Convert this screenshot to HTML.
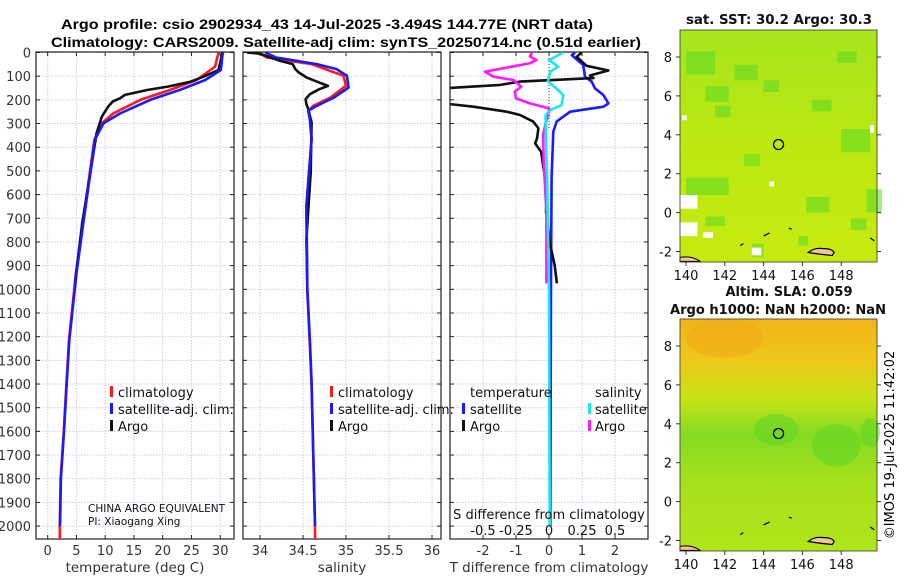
<!DOCTYPE html>
<html><head><meta charset="utf-8"><style>
html,body{margin:0;padding:0;background:#fff;width:900px;height:580px;overflow:hidden}
svg{display:block;font-family:"DejaVu Sans","Liberation Sans",sans-serif}
</style></head><body>
<svg id="fig" width="900" height="580" viewBox="0 0 900 580" xmlns="http://www.w3.org/2000/svg">
<defs>
<clipPath id="c1"><rect x="36" y="52" width="198" height="487"/></clipPath>
<clipPath id="c2"><rect x="243" y="52" width="198" height="487"/></clipPath>
<clipPath id="c3"><rect x="450" y="52" width="198" height="487"/></clipPath>
<linearGradient id="g1" x1="0" y1="0" x2="0" y2="1"><stop offset="0" stop-color="#a6e41c"/><stop offset="0.5" stop-color="#bce812"/><stop offset="1" stop-color="#c6ea10"/></linearGradient>
<linearGradient id="g2" x1="0" y1="0" x2="0" y2="1"><stop offset="0" stop-color="#f2b41a"/><stop offset="0.18" stop-color="#eec81a"/><stop offset="0.35" stop-color="#c4e416"/><stop offset="0.5" stop-color="#84da22"/><stop offset="0.7" stop-color="#a6e01c"/><stop offset="1" stop-color="#b0e41a"/></linearGradient>
</defs>
<g id="titles">
<text x="327" y="29" text-anchor="middle" font-family="Liberation Sans,sans-serif" font-weight="bold" font-size="13.5" textLength="532" lengthAdjust="spacingAndGlyphs">Argo profile: csio 2902934_43 14-Jul-2025 -3.494S 144.77E (NRT data)</text>
<text x="346" y="47" text-anchor="middle" font-family="Liberation Sans,sans-serif" font-weight="bold" font-size="13.5" textLength="590" lengthAdjust="spacingAndGlyphs">Climatology: CARS2009. Satellite-adj clim: synTS_20250714.nc (0.51d earlier)</text>
</g>
<g id="panels"></g>
<g id="maps"></g>
<text transform="translate(894,445) rotate(-90)" text-anchor="middle" font-size="13">©IMOS 19-Jul-2025 11:42:02</text>
</svg>
<script>
// ---------- data ----------
const depthTicks = [0,100,200,300,400,500,600,700,800,900,1000,1100,1200,1300,1400,1500,1600,1700,1800,1900,2000];
const tempTicks = [0,5,10,15,20,25,30];
const salTicks = [34,34.5,35,35.5,36];
const salTickLabels = ["34","34.5","35","35.5","36"];
const dTTicks = [-2,-1,0,1,2];
const dSTicks = [-0.5,-0.25,0,0.25,0.5];
const dSTickLabels = ["-0.5","-0.25","0","0.25","0.5"];

const tClimDepth = [0,60,116,158,200,257,299,369,510,721,932,1214,1400,1600,1800,2000,2055];
const tClim = [29.7,29.1,25.9,21.3,16.1,11.4,9.4,8.1,7.3,6.1,4.9,3.7,3.25,2.8,2.25,2.1,2.1];
const tSatDepth = [0,11,53,74,116,158,200,257,299,369,510,721,932,1214,1400,1600,1800,2000];
const tSat = [30.5,30.4,30.2,30.1,27.4,23.0,17.8,12.6,9.7,8.2,7.4,6.2,5.0,3.76,3.3,2.84,2.3,2.14];
const tArgoDepth = [0,74,102,123,144,158,179,193,207,229,271,341,510,721,975];
const tArgo = [30.4,29.7,27.1,24.9,20.9,17.4,13.4,12.6,11.3,10.5,9.4,8.5,7.4,6.0,4.75];

const sClimDepth = [0,21,49,98,140,190,225,246,282,366,648,1000,1400,2000,2055];
const sClim = [33.98,34.08,34.6,34.97,35.0,34.82,34.62,34.56,34.58,34.6,34.54,34.55,34.6,34.64,34.64];
const sSatDepth = [0,21,49,70,98,148,190,225,246,282,366,648,1000,1214,1400,2000];
const sSat = [34.06,34.19,34.66,34.89,35.01,35.03,34.86,34.66,34.56,34.58,34.60,34.54,34.55,34.58,34.60,34.64];
const sArgoDepth = [0,5,35,49,70,84,105,127,141,155,176,197,218,239,296,507,789,972];
const sArgo = [33.85,34.0,34.23,34.38,34.41,34.45,34.54,34.69,34.79,34.69,34.58,34.53,34.54,34.56,34.60,34.59,34.54,34.55];

const dTSatDepth = [0,11,53,102,123,151,180,215,229,250,292,334,531,954,2000];
const dTSat = [0.79,0.69,1.04,1.09,1.29,1.39,1.65,1.8,1.65,0.64,0.23,0.13,0.08,0.06,0.04];
const dTArgoDepth = [0,18,56,76,97,108,123,137,151,180,215,229,250,264,292,320,362,384,419,531,602,672,813,897,975];
const dTArgo = [0.99,0.84,1.14,1.8,1.24,1.35,-0.88,-1.48,-3.2,-5,-3.2,-2.29,-1.28,-0.88,-0.48,-0.32,-0.36,-0.42,-0.24,-0.12,-0.07,-0.09,0.04,0.17,0.24];
const dSArgoDepth = [0,17,32,46,81,102,116,144,165,194,215,236,250,292,348,461,672,975];
const dSArgo = [-0.13,-0.144,-0.095,-0.15,-0.485,-0.42,-0.27,-0.21,-0.26,-0.25,-0.145,0.0,0.0,-0.023,-0.045,-0.04,-0.02,-0.02];
const dSSatDepth = [0,32,60,81,123,151,180,222,243,264,320,531,1000,2000];
const dSSat = [0.108,0.0,0.07,0.01,-0.008,0.055,0.108,0.095,0.013,-0.025,-0.025,-0.015,0.0,0.005];

const lonTicks = [140,142,144,146,148];
const latTicks = [-2,0,2,4,6,8];
const floatLon = 144.77, floatLat = 3.5;

// ---------- scales ----------
const yD = d => 52.5 + d*0.2368;
const xT = t => 47.7 + t*5.75;
const xS = s => 260 + (s-34)*86;
const xDT = v => 549 + v*33;
const xDS = v => 549 + v*132;
const NS = "http://www.w3.org/2000/svg";
function mk(tag, attrs, parent){const e=document.createElementNS(NS,tag);for(const k in attrs)e.setAttribute(k,attrs[k]);parent.appendChild(e);return e;}
const panels = document.getElementById('panels');
const maps = document.getElementById('maps');

function panel(x0, name, xticks, xfn, labels, title){
  const g = mk('g',{},panels);
  
  
  const W=198, top=52, bot=539;
  xticks.forEach(t=>{ const x=xfn(t);
    mk('line',{x1:x,x2:x,y1:top,y2:bot,stroke:'#c9cbe6','stroke-width':1,'stroke-dasharray':'1.5,1.5'},g);
    mk('line',{x1:x,x2:x,y1:bot,y2:bot-4,stroke:'#222'},g);
    mk('line',{x1:x,x2:x,y1:top,y2:top+4,stroke:'#222'},g);
  });
  depthTicks.forEach(d=>{ const y=yD(d);
    mk('line',{x1:x0,x2:x0+W,y1:y,y2:y,stroke:'#c9cbe6','stroke-width':1,'stroke-dasharray':'1.5,1.5'},g);
    mk('line',{x1:x0,x2:x0+4,y1:y,y2:y,stroke:'#222'},g);
    mk('line',{x1:x0+W-4,x2:x0+W,y1:y,y2:y,stroke:'#222'},g);
  });
  mk('rect',{x:x0,y:top,width:W,height:bot-top,fill:'none',stroke:'#222','stroke-width':1.2},g);
  if(labels){ xticks.forEach((t,i)=>{ const tx=mk('text',{x:xfn(t),y:555,'text-anchor':'middle','font-size':13,fill:'#333'},g); tx.textContent=labels[i]; }); }
  if(title){ const tt=mk('text',{x:x0+W/2,y:572,'text-anchor':'middle','font-size':13.5,fill:'#333'},g); tt.textContent=title;   }
  return g;
}
function line(g, clip, depths, vals, xfn, color, name, w){
  const pts = depths.map((d,i)=>xfn(vals[i]).toFixed(1)+','+yD(d).toFixed(1)).join(' ');
  const p = mk('polyline',{points:pts,fill:'none',stroke:color,'stroke-width':w||2.6,'stroke-linejoin':'round','clip-path':'url(#'+clip+')'},g);
  
  
}
function txt(g,x,y,s,size,anchor,name){ const t=mk('text',{x:x,y:y,'font-size':size||13,'text-anchor':anchor||'start',fill:'#111'},g); t.textContent=s;
  
   return t;}
function mark(g,x,y,color){ mk('rect',{x:x,y:y-10,width:3,height:11,fill:color},g); }

// Panel 1 temperature
const p1 = panel(36,'temperature-panel',tempTicks,xT,tempTicks.map(String),'temperature (deg C)');
depthTicks.forEach(d=>{ const t=mk('text',{x:31,y:yD(d)+5,'text-anchor':'end','font-size':13,fill:'#333'},p1); t.textContent=String(d);
  
   });
line(p1,'c1',tClimDepth,tClim,xT,'#ff1a1a','temp-climatology-line');
line(p1,'c1',tArgoDepth,tArgo,xT,'#111','temp-argo-line');
line(p1,'c1',tSatDepth,tSat,xT,'#1a1aff','temp-satellite-line');
mark(p1,110,396,'#ff1a1a'); txt(p1,118,397,'climatology',13,'start','legend-climatology');
mark(p1,110,413,'#1a1aff'); txt(p1,118,414,'satellite-adj. clim.',13,'start','legend-satellite');
mark(p1,110,430,'#111'); txt(p1,118,431,'Argo',13,'start','legend-argo');
txt(p1,88,512,'CHINA ARGO EQUIVALENT',10.5,'start','institution-label');
txt(p1,88,525,'PI: Xiaogang Xing',10.5,'start','pi-label');

// Panel 2 salinity
const p2 = panel(243,'salinity-panel',salTicks,xS,salTickLabels,'salinity');
line(p2,'c2',sClimDepth,sClim,xS,'#ff1a1a','sal-climatology-line');
line(p2,'c2',sArgoDepth,sArgo,xS,'#111','sal-argo-line');
line(p2,'c2',sSatDepth,sSat,xS,'#1a1aff','sal-satellite-line');
mark(p2,330,396,'#ff1a1a'); txt(p2,338,397,'climatology',13,'start','legend-climatology');
mark(p2,330,413,'#1a1aff'); txt(p2,338,414,'satellite-adj. clim.',13,'start','legend-satellite');
mark(p2,330,430,'#111'); txt(p2,338,431,'Argo',13,'start','legend-argo');

// Panel 3 differences
const p3 = panel(450,'difference-panel',dTTicks,xDT,dTTicks.map(String),'T difference from climatology');
mk('line',{x1:549,x2:549,y1:52,y2:130,stroke:'#333','stroke-width':1,'stroke-dasharray':'1,2'},p3);
line(p3,'c3',dTSatDepth,dTSat,xDT,'#1a1aff','dT-satellite-line');
line(p3,'c3',dTArgoDepth,dTArgo,xDT,'#111','dT-argo-line');
line(p3,'c3',dSArgoDepth,dSArgo,xDS,'#ff1aff','dS-argo-line');
line(p3,'c3',dSSatDepth,dSSat,xDS,'#1ae6f0','dS-satellite-line');
txt(p3,470,397,'temperature',13,'start','legend-temperature-heading');
txt(p3,595,397,'salinity',13,'start','legend-salinity-heading');
mark(p3,462,413,'#1a1aff'); txt(p3,470,414,'satellite',13,'start','legend-t-satellite');
mark(p3,462,430,'#111'); txt(p3,470,431,'Argo',13,'start','legend-t-argo');
mark(p3,588,413,'#1ae6f0'); txt(p3,595,414,'satellite',13,'start','legend-s-satellite');
mark(p3,588,430,'#ff1aff'); txt(p3,595,431,'Argo',13,'start','legend-s-argo');
txt(p3,549,519,'S difference from climatology',13,'middle','s-diff-axis-title');
dSTicks.forEach((v,i)=>{ txt(p3,xDS(v),535,dSTickLabels[i],13,'middle','s-diff-tick-label'); });

// ---------- maps ----------
function map(top, bg, name){
  const g = mk('g',{},maps);
  
  
  const L=680, W=197, H=232;
  const xL = lon => 686 + (lon-140)*19.4;
  const yL = lat => top + 27 + (8-lat)*19.45;
  mk('rect',{x:L,y:top,width:W,height:H,fill:bg},g);
  return {g,xL,yL,L,W,H};
}
// Map 1 SST
const m1 = map(30,'url(#g1)','sst-map');
const patches1 = [[140,1.8,2.2,0.9],[142.5,7.6,1.2,0.8],[148,4.3,1.5,1.2],[143.4,-1.6,0.6,0.7],[146.2,0.8,1.2,0.8],[149.3,1.2,0.8,1.2],[141.5,5.5,0.8,0.6],[145.8,-1.2,0.5,0.5],[147.8,8.3,1,0.6],[140,8.3,1.5,1.2],[141,6.5,1.2,0.8],[144,6.8,0.8,0.6],[146.5,5.8,1,0.6],[143,3,0.8,0.6],[141,-0.2,1,0.5],[148.5,-0.3,0.8,0.6]];
patches1.forEach(p=>{ const r=mk('rect',{x:m1.xL(p[0]),y:m1.yL(p[1]),width:p[2]*19.4,height:p[3]*19.4,fill:'#5ad826',opacity:0.55},m1.g);
  
   });
[[140,0.9,0.9,0.7],[140,-0.5,0.9,0.7],[143.7,-1.8,0.5,0.4],[141.2,-1,0.5,0.3],[140.1,5,0.25,0.25],[144.6,1.6,0.25,0.25],[149.8,4.5,0.2,0.4]].forEach(p=>{ const r=mk('rect',{x:m1.xL(p[0])-6,y:m1.yL(p[1]),width:p[2]*19.4,height:p[3]*19.4,fill:'#fff'},m1.g);
  
   });
// Map 2 SLA
const m2 = map(319,'url(#g2)','sla-map');
[[143.5,4.5,2.3,1.6],[146.5,4.0,2.5,2.2],[149,4.3,1,1.5],[140,9.4,4,2]].forEach((p,i)=>{ const e=mk('ellipse',{cx:m2.xL(p[0]+p[2]/2),cy:m2.yL(p[1]-p[3]/2),rx:p[2]*9.7,ry:p[3]*9.7,fill:i==3?'#f0a818':'#5ed626',opacity:0.55},m2.g);
  
   });
[m1,m2].forEach((m,i)=>{
  const g=m.g;
  mk('path',{d:`M${m.xL(146.3)} ${m.yL(-2.05)} q6 -5 14 -4 q10 0 12 4 l-2 3 q-12 -1 -24 -3z`,fill:'#f2c49a',stroke:'#000','stroke-width':1.2},g);
  mk('path',{d:`M${m.L} ${m.yL(-2.3)} q12 -2 20 4 l-20 0z`,fill:'#f2c49a',stroke:'#000','stroke-width':1},g);
  mk('path',{d:`M${m.xL(142.8)} ${m.yL(-1.7)} l3 -2 M${m.xL(144)} ${m.yL(-1.2)} l6 -3 M${m.xL(145.3)} ${m.yL(-0.8)} l3 1 M${m.xL(149.5)} ${m.yL(-1.3)} l4 3`,stroke:'#000','stroke-width':1.2,fill:'none'},g);
  const c=mk('circle',{cx:m.xL(floatLon),cy:m.yL(floatLat),r:5,fill:'none',stroke:'#000','stroke-width':1.3},g);
  
  
  mk('rect',{x:m.L,y:m.yL(8)-27,width:m.W,height:m.H,fill:'none',stroke:'#333','stroke-width':0.8},g);
  lonTicks.forEach(l=>{ const x=m.xL(l); mk('line',{x1:x,x2:x,y1:m.yL(8)-27+m.H,y2:m.yL(8)-27+m.H+4,stroke:'#333'},g);
    txt(g,x,m.yL(8)-27+m.H+18,String(l),13,'middle','lon-tick-label'); });
  latTicks.forEach(l=>{ const y=m.yL(l); mk('line',{x1:m.L-4,x2:m.L,y1:y,y2:y,stroke:'#333'},g); mk('line',{x1:m.L+m.W,x2:m.L+m.W+4,y1:y,y2:y,stroke:'#333'},g);
    txt(g,672,y+5,String(l),13,'end','lat-tick-label'); });
});
const mt = txt(maps,779,24,'sat. SST: 30.2 Argo: 30.3',13,'middle','sst-map-title'); mt.setAttribute('font-weight','bold'); mt.setAttribute('textLength','186'); mt.setAttribute('lengthAdjust','spacingAndGlyphs');
const mt2 = txt(maps,789,296,'Altim. SLA: 0.059',13,'middle','sla-map-title'); mt2.setAttribute('font-weight','bold');
const mt3 = txt(maps,778,314,'Argo h1000: NaN h2000: NaN',13,'middle','sla-map-subtitle'); mt3.setAttribute('font-weight','bold'); mt3.setAttribute('textLength','216'); mt3.setAttribute('lengthAdjust','spacingAndGlyphs');
</script>
</body></html>
